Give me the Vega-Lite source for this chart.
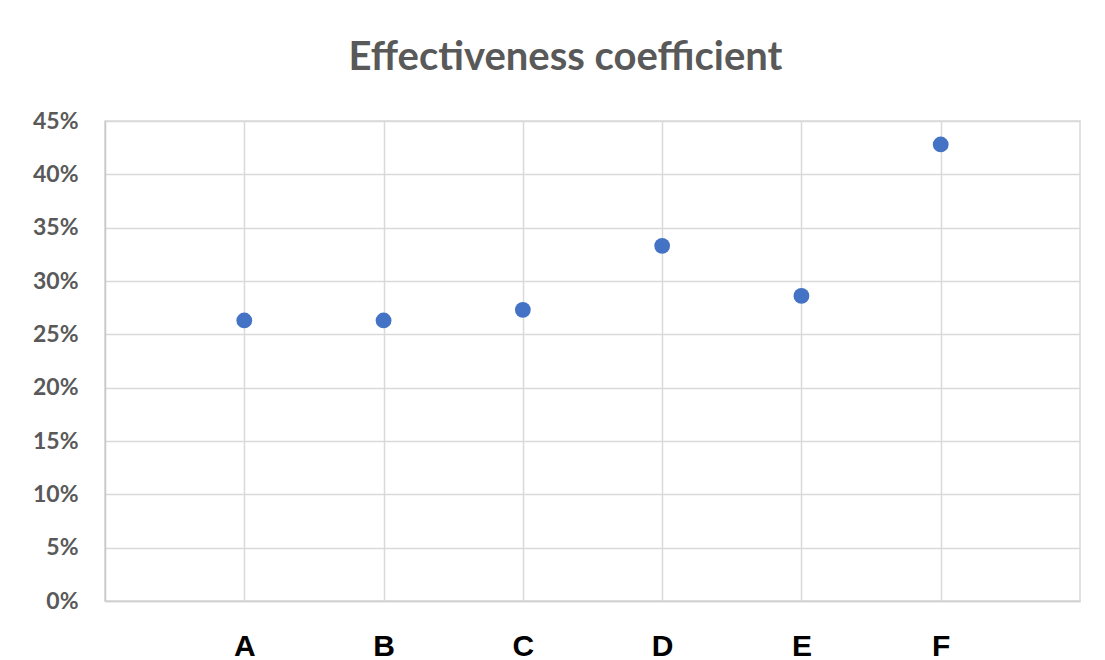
{
  "$schema": "https://vega.github.io/schema/vega-lite/v6.json",
  "autosize": {"type": "none"},
  "width": 975,
  "height": 480,
  "padding": {"left": 105, "top": 121, "right": 25, "bottom": 59},
  "background": "white",
  "title": {
    "text": "Effectiveness coefficient",
    "font": "Lato",
    "fontSize": 40,
    "fontWeight": "bold",
    "color": "#595959",
    "anchor": "middle",
    "baseline": "alphabetic",
    "offset": 48,
    "dx": -27,
    "dy": 48
  },
  "data": {
    "values": [
      {"category": "A", "value": 0.263},
      {"category": "B", "value": 0.263},
      {"category": "C", "value": 0.273},
      {"category": "D", "value": 0.333},
      {"category": "E", "value": 0.286},
      {"category": "F", "value": 0.428}
    ]
  },
  "mark": {"type": "circle", "size": 250, "opacity": 1, "color": "#4472C4"},
  "encoding": {
    "x": {
      "field": "category",
      "type": "ordinal",
      "scale": {"type": "point", "padding": 1},
      "axis": {
        "title": null,
        "labelAngle": 0,
        "labelFont": "Liberation Sans",
        "labelFontSize": 30,
        "labelFontWeight": "bold",
        "labelColor": "#000000",
        "labelPadding": 30,
        "ticks": false,
        "domain": true,
        "domainColor": "#D0D0D0",
        "domainWidth": 1.5,
        "grid": true,
        "gridColor": "#D9D9D9",
        "gridWidth": 1.5
      }
    },
    "y": {
      "field": "value",
      "type": "quantitative",
      "scale": {"domain": [0, 0.45], "nice": false},
      "axis": {
        "title": null,
        "values": [0, 0.05, 0.1, 0.15, 0.2, 0.25, 0.3, 0.35, 0.4, 0.45],
        "format": ".0%",
        "labelFont": "Lato",
        "labelFontSize": 23,
        "labelFontWeight": "bold",
        "labelColor": "#595959",
        "labelPadding": 27,
        "ticks": false,
        "domain": true,
        "domainColor": "#C8C8C8",
        "domainWidth": 1.5,
        "grid": true,
        "gridColor": "#D9D9D9",
        "gridWidth": 1.5
      }
    }
  },
  "config": {
    "view": {"stroke": "#D9D9D9", "strokeWidth": 1.5}
  }
}
